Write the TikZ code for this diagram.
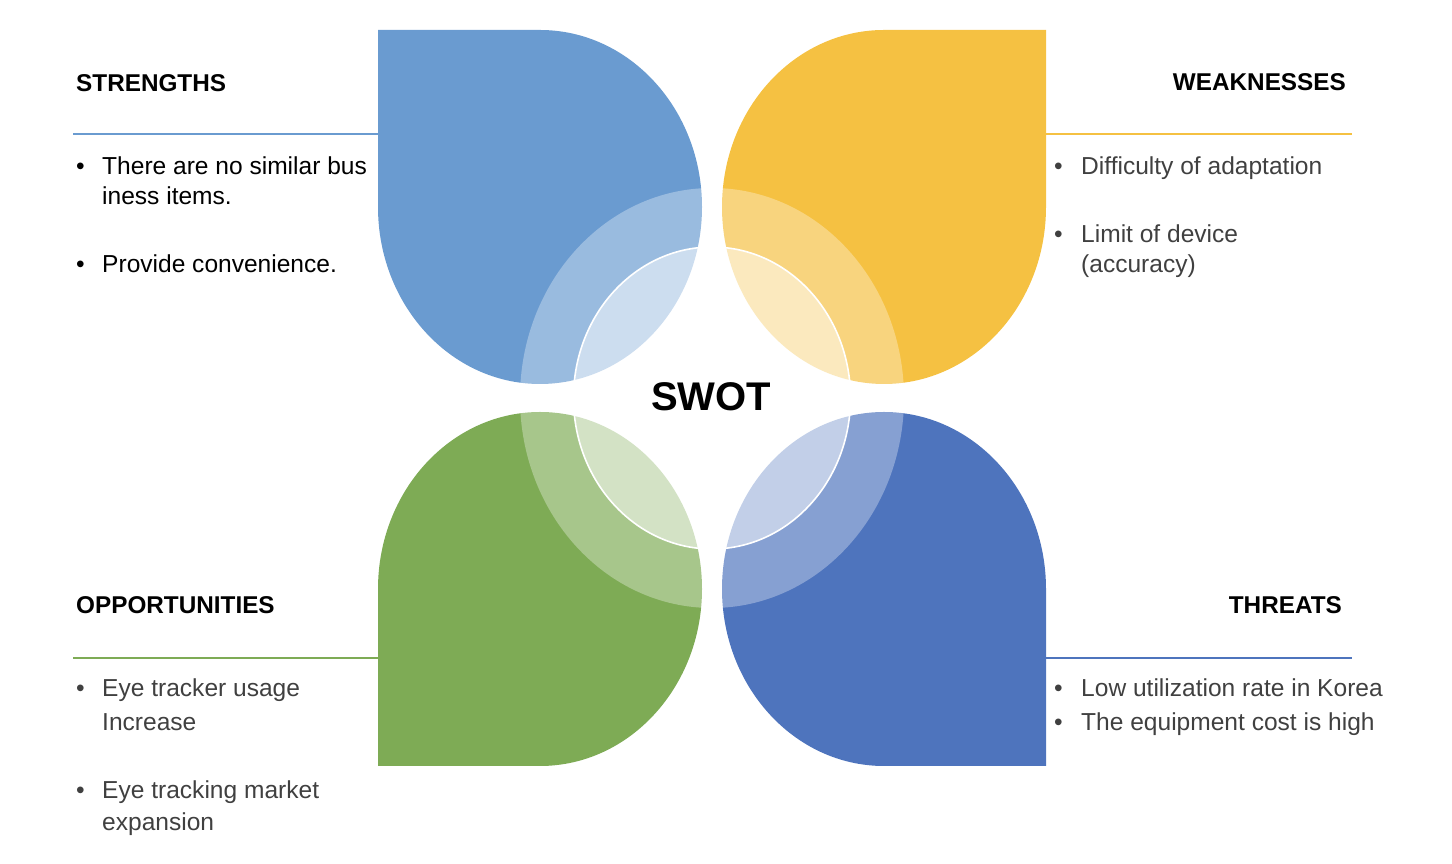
\documentclass[tikz,border=0pt]{standalone}
\usepackage{fontspec}
\setmainfont{Liberation Sans}
\definecolor{sblue}{HTML}{6A9BD0}
\definecolor{wyellow}{HTML}{F5C142}
\definecolor{ogreen}{HTML}{7EAB55}
\definecolor{tblue}{HTML}{4E74BD}
\definecolor{bodygray}{HTML}{404040}
\begin{document}
\begin{tikzpicture}[x=1pt,y=1pt,
  petal/.style={draw=none},
  rule/.style={line width=1.8pt},
  heading/.style={inner sep=0pt,font=\fontsize{24.3}{29}\selectfont\bfseries,text=black},
  bodyline/.style={inner sep=0pt,anchor=base west,font=\fontsize{24.55}{29}\selectfont,text=bodygray},
  bulletmark/.style={inner sep=0pt,anchor=base west,font=\fontsize{24.55}{29}\selectfont,text=bodygray},
  radii/.style={x radius=162,y radius=177}]
\useasboundingbox (0,0) rectangle (1452,864);

% four petals, each a quarter-squared ellipse
\fill[petal,sblue]   (378,834) -- (540,834) arc[start angle=90,end angle=-180,radii] -- cycle;
\fill[petal,wyellow] (1046,834) -- (884,834) arc[start angle=90,end angle=360,radii] -- cycle;
\fill[petal,ogreen]  (378,98) -- (378,275) arc[start angle=180,end angle=-90,radii] -- cycle;
\fill[petal,tblue]   (1046,98) -- (1046,275) arc[start angle=0,end angle=270,radii] -- cycle;

% translucent rings at the centre
\fill[white,opacity=0.32] (712,466) ellipse[x radius=192,y radius=210];
\fill[white,opacity=0.5] (712,466) ellipse[x radius=138.5,y radius=151];
\draw[white,line width=1.6pt] (712,466) ellipse[x radius=138.5,y radius=151];

\node[inner sep=0pt,anchor=base,font=\fontsize{40}{48}\selectfont\bfseries] (swot) at (711,453) {SWOT};

% rules under the headings
\draw[rule,sblue]   (73,730) -- (378,730);
\draw[rule,wyellow] (1046,730) -- (1352,730);
\draw[rule,ogreen]  (73,206) -- (378,206);
\draw[rule,tblue]   (1046,206) -- (1352,206);

% strengths
\node[heading,anchor=base west] (sHead) at (76,772) {STRENGTHS};
\node[bulletmark,text=black] (sB1) at (76,689) {•};
\node[bodyline,text=black] (sL1) at (102,689) {There are no similar bus};
\node[bodyline,text=black] (sL2) at (102,659) {iness items.};
\node[bulletmark,text=black] (sB2) at (76,591) {•};
\node[bodyline,text=black] (sL3) at (102,591) {Provide convenience.};

% weaknesses
\node[heading,anchor=base east] (wHead) at (1346,773) {WEAKNESSES};
\node[bulletmark] (wB1) at (1054,689) {•};
\node[bodyline] (wL1) at (1081,689) {Difficulty of adaptation};
\node[bulletmark] (wB2) at (1054,621) {•};
\node[bodyline] (wL2) at (1081,621) {Limit of device};
\node[bodyline] (wL3) at (1081,591) {(accuracy)};

% opportunities
\node[heading,anchor=base west] (oHead) at (76,250) {OPPORTUNITIES};
\node[bulletmark] (oB1) at (76,167) {•};
\node[bodyline] (oL1) at (102,167) {Eye tracker usage};
\node[bodyline] (oL2) at (102,133) {Increase};
\node[bulletmark] (oB2) at (76,65) {•};
\node[bodyline] (oL3) at (102,65) {Eye tracking market};
\node[bodyline] (oL4) at (102,33) {expansion};

% threats
\node[heading,anchor=base east] (tHead) at (1342,250) {THREATS};
\node[bulletmark] (tB1) at (1054,167) {•};
\node[bodyline] (tL1) at (1081,167) {Low utilization rate in Korea};
\node[bulletmark] (tB2) at (1054,133) {•};
\node[bodyline] (tL2) at (1081,133) {The equipment cost is high};
\end{tikzpicture}
\end{document}
